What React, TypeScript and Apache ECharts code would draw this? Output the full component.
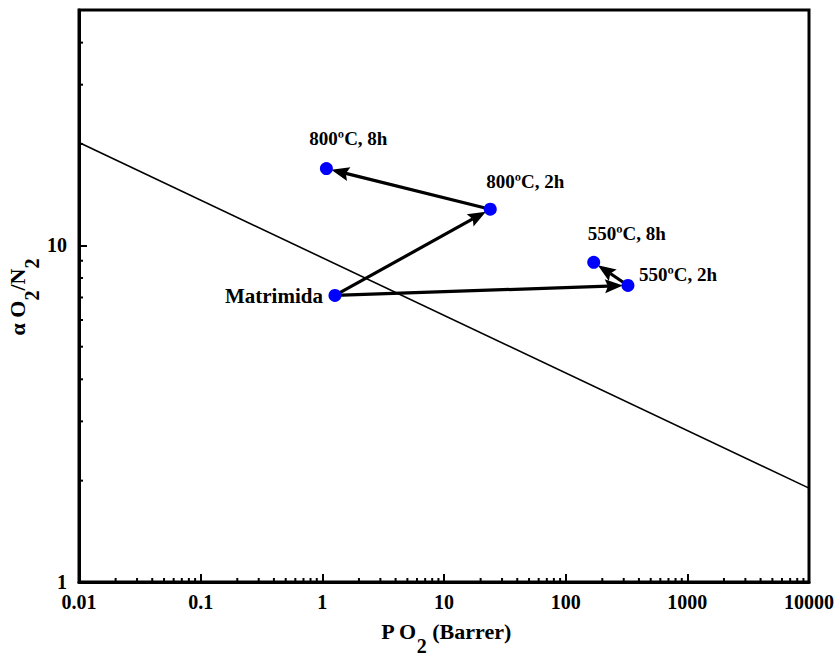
import React, { useEffect, useRef } from "react";
import * as echarts from "echarts";

// ---- data ----
const pointNames = ["Matrimida", "800ºC, 2h", "800ºC, 8h", "550ºC, 2h", "550ºC, 8h"];
const permeabilityO2 = [1.27, 24, 1.08, 325, 170];
const selectivityO2N2 = [7.1, 12.8, 16.9, 7.6, 8.9];
const arrowFrom = [0, 1, 0, 3];
const arrowTo = [1, 2, 3, 4];
const upperBoundX = [0.01, 10000];
const upperBoundY = [20.2, 1.9];
const xDecades = [0.01, 0.1, 1, 10, 100, 1000];
const minorMultipliers = [2, 3, 4, 5, 6, 7, 8, 9];
const yMinorTicks = [2, 3, 4, 5, 6, 7, 8, 9, 20, 30, 40];
const xMin = 0.01, xMax = 10000, yMin = 1, yMax = 50;

const FONT = '"Times New Roman", "Liberation Serif", serif';

// label placement per point: [dx, dy, align, fontSize]
const labelPlacement: [number, number, string, number][] = [
  [-12, 1, "right", 21],
  [35, -28, "center", 19],
  [22, -30, "center", 19],
  [11, -11, "left", 19],
  [33, -29, "center", 19],
];

export default function App() {
  const ref = useRef<HTMLDivElement>(null);
  useEffect(() => {
    if (!ref.current) return;
    const chart = echarts.init(ref.current, null, { renderer: "svg" });
    const xMinorTicks: number[] = [];
    xDecades.forEach((d) => minorMultipliers.forEach((m) => xMinorTicks.push(Number((d * m).toPrecision(6)))));

    const fmt = (v: number) => String(Number(v.toPrecision(6)));
    const axisText = { fontFamily: FONT, fontWeight: "bold", fontSize: 20, color: "#000" };
    const titleRich = {
      m: { fontFamily: FONT, fontWeight: "bold", color: "#000", fontSize: 22, lineHeight: 25, verticalAlign: "top" },
      s: { fontFamily: FONT, fontWeight: "bold", color: "#000", fontSize: 20, lineHeight: 35, verticalAlign: "bottom" },
    };

    const option: any = {
      animation: false,
      grid: {
        left: 79, top: 10, right: 26, bottom: 79,
        show: true, borderColor: "#000", borderWidth: 3, backgroundColor: "transparent",
      },
      graphic: [
        {
          type: "text",
          x: 446,
          y: 638,
          style: { text: "{m|P O}{s|2}{m| (Barrer)}", rich: titleRich, align: "center", verticalAlign: "middle" },
        },
        {
          type: "text",
          x: 24,
          y: 297,
          rotation: Math.PI / 2,
          style: { text: "{m|α O}{s|2}{m|/N}{s|2}", rich: titleRich, align: "center", verticalAlign: "middle" },
        },
      ],
      xAxis: {
        type: "log", logBase: 10, min: xMin, max: xMax,
        axisLine: { lineStyle: { color: "#000", width: 3 } },
        axisTick: { inside: true, length: 8, lineStyle: { color: "#000", width: 2 } },
        axisLabel: { ...axisText, margin: 10, formatter: fmt },
        splitLine: { show: false },
      },
      yAxis: {
        type: "log", logBase: 10, min: yMin, max: yMax,
        axisLine: { lineStyle: { color: "#000", width: 3 } },
        axisTick: { inside: true, length: 8, lineStyle: { color: "#000", width: 2 } },
        axisLabel: { ...axisText, margin: 12, formatter: fmt, showMaxLabel: false },
        splitLine: { show: false },
      },
      series: [
        {
          type: "line",
          data: upperBoundX.map((x, i) => [x, upperBoundY[i]]),
          showSymbol: false,
          symbol: "none",
          lineStyle: { color: "#000", width: 1.6 },
          z: 2,
        },
        {
          type: "custom",
          coordinateSystem: "cartesian2d",
          data: xMinorTicks.map((v) => [v, yMin]),
          renderItem: (params: any, api: any) => {
            const p = api.coord([api.value(0), api.value(1)]);
            return {
              type: "line",
              shape: { x1: p[0], y1: p[1], x2: p[0], y2: p[1] - 4 },
              style: { stroke: "#000", lineWidth: 2 },
            };
          },
          clip: false,
          z: 3,
        },
        {
          type: "custom",
          coordinateSystem: "cartesian2d",
          data: yMinorTicks.map((v) => [xMin, v]),
          renderItem: (params: any, api: any) => {
            const p = api.coord([api.value(0), api.value(1)]);
            return {
              type: "line",
              shape: { x1: p[0], y1: p[1], x2: p[0] + 4, y2: p[1] },
              style: { stroke: "#000", lineWidth: 2 },
            };
          },
          clip: false,
          z: 3,
        },
        {
          type: "custom",
          coordinateSystem: "cartesian2d",
          encode: { x: [0, 2], y: [1, 3] },
          data: arrowFrom.map((f, i) => [
            permeabilityO2[f], selectivityO2N2[f],
            permeabilityO2[arrowTo[i]], selectivityO2N2[arrowTo[i]],
          ]),
          renderItem: (params: any, api: any) => {
            const a = api.coord([api.value(0), api.value(1)]);
            const b = api.coord([api.value(2), api.value(3)]);
            const dx = b[0] - a[0], dy = b[1] - a[1];
            const L = Math.hypot(dx, dy);
            const ux = dx / L, uy = dy / L;
            const nx = -uy, ny = ux;
            const tip = [b[0] - ux * 5, b[1] - uy * 5];
            const headLen = 18, headW = 7;
            const base = [tip[0] - ux * headLen, tip[1] - uy * headLen];
            const notch = [base[0] + ux * 3, base[1] + uy * 3];
            return {
              type: "group",
              children: [
                {
                  type: "line",
                  shape: { x1: a[0], y1: a[1], x2: notch[0], y2: notch[1] },
                  style: { stroke: "#000", lineWidth: 3.2 },
                },
                {
                  type: "polygon",
                  shape: {
                    points: [
                      tip,
                      [base[0] + nx * headW, base[1] + ny * headW],
                      notch,
                      [base[0] - nx * headW, base[1] - ny * headW],
                    ],
                  },
                  style: { fill: "#000" },
                },
              ],
            };
          },
          z: 4,
        },
        {
          type: "scatter",
          symbol: "circle",
          symbolSize: 13,
          itemStyle: { color: "#0000ff", opacity: 1 },
          z: 5,
          data: pointNames.map((n, i) => ({
            name: n,
            value: [permeabilityO2[i], selectivityO2N2[i]],
            label: {
              show: true,
              formatter: n,
              position: "inside",
              offset: [labelPlacement[i][0], labelPlacement[i][1]],
              align: labelPlacement[i][2],
              verticalAlign: "middle",
              fontFamily: FONT,
              fontWeight: "bold",
              fontSize: labelPlacement[i][3],
              color: "#000",
            },
          })),
        },
      ],
    };
    chart.setOption(option);
    return () => chart.dispose();
  }, []);
  return (
    <div
      ref={ref}
      style={{ position: "fixed", left: 0, top: 0, width: 837, height: 661, background: "#fff" }}
    />
  );
}
